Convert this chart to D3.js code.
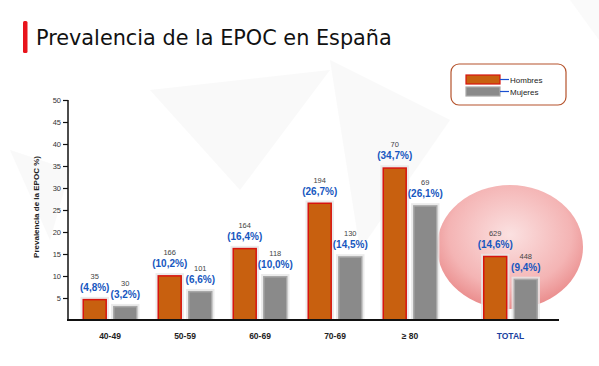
<!DOCTYPE html>
<html><head><meta charset="utf-8">
<script src="https://cdn.jsdelivr.net/npm/d3@7/dist/d3.min.js"></script>
<style>body{margin:0;background:#fff;}svg{display:block;}</style>
</head><body>
<script>
const title = "Prevalencia de la EPOC en España";
const groups = ["40-49","50-59","60-69","70-69","≥ 80"];
const totalGroup = ["TOTAL"];
const seriesNames = ["Hombres","Mujeres"];
const hombresPct = [4.8, 10.2, 16.4, 26.7, 34.7, 14.6];
const mujeresPct = [3.2, 6.6, 10.0, 14.5, 26.1, 9.4];
const hombresN = [35, 166, 164, 194, 70, 629];
const mujeresN = [30, 101, 118, 130, 69, 448];
const pctLabelsH = ["(4,8%)","(10,2%)","(16,4%)","(26,7%)","(34,7%)","(14,6%)"];
const pctLabelsM = ["(3,2%)","(6,6%)","(10,0%)","(14,5%)","(26,1%)","(9,4%)"];
const yTicks = [5,10,15,20,25,30,35,40,45,50];
const yTitle = "Prevalencia de la EPOC %)";

const W = 599, H = 366;
const svg = d3.select("body").append("svg").attr("width", W).attr("height", H);
const defs = svg.append("defs");
const rg = defs.append("radialGradient").attr("id","pink").attr("cx","50%").attr("cy","40%").attr("r","60%");
rg.append("stop").attr("offset","0%").attr("stop-color","#fbe1e1");
rg.append("stop").attr("offset","70%").attr("stop-color","#f4b4b4");
rg.append("stop").attr("offset","100%").attr("stop-color","#ea8c8c");

// faint background shapes
const bg = svg.append("g").attr("fill","#f6f6f6").attr("opacity",0.6);
bg.append("polygon").attr("points","150,90 330,70 240,190");
bg.append("polygon").attr("points","330,60 450,120 360,250");
bg.append("polygon").attr("points","10,150 70,170 50,240");
bg.append("polygon").attr("points","570,0 599,0 599,40");

// title
svg.append("rect").attr("x",23).attr("y",21).attr("width",4.5).attr("height",32).attr("rx",1.5).attr("fill","#e8141c");
svg.append("text").attr("x",36).attr("y",45).attr("font-family","DejaVu Sans").attr("font-size",20.8).attr("fill","#111").text(title);

const y = d3.scaleLinear().domain([0,50]).range([320,100]);
const x = d3.scaleBand().domain(groups).range([72,447]);
const xT = d3.scaleBand().domain(totalGroup).range([472.5,547.5]);
const x1 = d3.scaleBand().domain(seriesNames).range([10.5,65.5]).paddingInner(0.2);

// ellipse
svg.append("ellipse").attr("cx", xT("TOTAL")+xT.bandwidth()/2).attr("cy",247).attr("rx",73).attr("ry",62).attr("fill","url(#pink)");

// y axis
const yAxis = svg.append("g").attr("transform","translate(68,0)")
  .call(d3.axisLeft(y).tickValues(yTicks).tickSize(5).tickPadding(2));
yAxis.select(".domain").attr("stroke","#111").attr("stroke-width",1.5).attr("d","M0,100V320");
yAxis.selectAll(".tick line").attr("stroke","#111").attr("stroke-width",1.2);
yAxis.selectAll(".tick text").attr("font-family","Liberation Sans").attr("font-size",7.5).attr("fill","#333");

svg.append("text").attr("transform","translate(39,207) rotate(-90)").attr("text-anchor","middle")
  .attr("font-family","Liberation Sans").attr("font-size",8).attr("font-weight","bold").attr("fill","#222").text(yTitle);

const allGroups = groups.concat(totalGroup);
const gx = (g) => groups.includes(g) ? x(g) : xT(g);

const data = [];
allGroups.forEach((g,i) => {
  data.push({g, s:"Hombres", v:hombresPct[i], n:hombresN[i], lab:pctLabelsH[i]});
  data.push({g, s:"Mujeres", v:mujeresPct[i], n:mujeresN[i], lab:pctLabelsM[i]});
});

const bars = svg.append("g");
bars.selectAll("rect.halo").data(data).join("rect").attr("class","halo")
  .attr("x", d => gx(d.g)+x1(d.s)-2).attr("y", d => y(d.v)-2)
  .attr("width", x1.bandwidth()+4).attr("height", d => 320-y(d.v)+2)
  .attr("fill","#e6e6e6").attr("opacity",0.8);
bars.selectAll("rect.bar").data(data).join("rect").attr("class","bar")
  .attr("x", d => gx(d.g)+x1(d.s)+0.75).attr("y", d => y(d.v)+0.75)
  .attr("width", x1.bandwidth()-1.5).attr("height", d => 320-y(d.v)-0.75)
  .attr("fill", d => d.s==="Hombres" ? "#c8600f" : "#8a8a8a")
  .attr("stroke", d => d.s==="Hombres" ? "#d8140e" : "#a8a8a8").attr("stroke-width",1.5);

const lab = svg.append("g").attr("text-anchor","middle").attr("font-family","Liberation Sans");
lab.selectAll("text.n").data(data).join("text").attr("class","n")
  .attr("x", d => gx(d.g)+x1(d.s)+x1.bandwidth()/2).attr("y", d => y(d.v)-20)
  .attr("font-size",7.5).attr("fill","#444").text(d => d.n);
lab.selectAll("text.p").data(data).join("text").attr("class","p")
  .attr("x", d => gx(d.g)+x1(d.s)+x1.bandwidth()/2).attr("y", d => y(d.v)-8)
  .attr("font-size",10).attr("font-weight","bold").attr("fill","#1757c0").text(d => d.lab);

svg.append("line").attr("x1",67).attr("x2",559).attr("y1",320).attr("y2",320).attr("stroke","#111").attr("stroke-width",2);

svg.append("g").selectAll("text").data(allGroups).join("text")
  .attr("x", g => gx(g)+ (groups.includes(g)? x.bandwidth(): xT.bandwidth())/2 + 0.5)
  .attr("y",339).attr("text-anchor","middle").attr("font-family","Liberation Sans")
  .attr("font-size",8.5).attr("font-weight","bold").attr("fill", g => g==="TOTAL" ? "#1a3fa0" : "#222").text(g => g);

const lg = svg.append("g");
lg.append("rect").attr("x",451).attr("y",64).attr("width",115).attr("height",41).attr("rx",8)
  .attr("fill","#fff").attr("stroke","#b5532c").attr("stroke-width",1.2);
seriesNames.forEach((s,i) => {
  const yy = 75 + i*12;
  lg.append("rect").attr("x",466).attr("y",yy).attr("width",34).attr("height",9)
    .attr("fill", i===0 ? "#c8600f" : "#8a8a8a").attr("stroke", i===0 ? "#d8140e" : "#a8a8a8").attr("stroke-width",1.2);
  lg.append("line").attr("x1",500).attr("x2",509).attr("y1",yy+4.5).attr("y2",yy+4.5).attr("stroke","#1a4fd0").attr("stroke-width",1.2);
  lg.append("text").attr("x",510).attr("y",yy+7.5).attr("font-family","Liberation Sans").attr("font-size",8).attr("fill","#222").text(s);
});
</script>
</body></html>
